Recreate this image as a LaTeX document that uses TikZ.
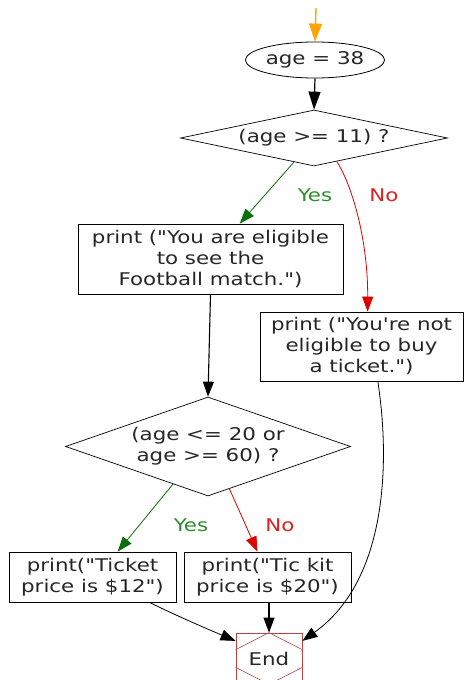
\documentclass[tikz,border=0pt]{standalone}
\usepackage{fontspec}
\setmainfont{DejaVu Sans}[FakeStretch=1.22, Ligatures=TeXOff]
\usetikzlibrary{shapes.geometric,arrows.meta,calc}
\definecolor{txt}{HTML}{262626}
\definecolor{yesc}{HTML}{0A6E0A}
\definecolor{yesl}{HTML}{2E8B2E}
\definecolor{noc}{HTML}{E00000}
\definecolor{nol}{HTML}{E02020}
\definecolor{endc}{HTML}{B84444}
\definecolor{startc}{HTML}{FFA500}
\tikzset{
  every node/.style={font=\fontsize{17.5}{21}\selectfont, text=txt, align=center},
  procbox/.style={draw=black, line width=0.8pt, rectangle, inner sep=0pt},
  decision/.style={draw=black, line width=0.7pt, diamond, inner sep=0pt},
  conn/.style={line width=0.8pt, -{Triangle[length=15pt,width=11pt]}},
  yesedge/.style={conn, draw=yesc},
  noedge/.style={conn, draw=noc},
  yeslabel/.style={text=yesl},
  nolabel/.style={text=nol},
}
\begin{document}
\begin{tikzpicture}[x=1pt,y=-1pt]
\useasboundingbox (0,0) rectangle (466,680);
\fill[white] (0,0) rectangle (466,680);

\coordinate (start) at (316,8);
\node[draw=black, line width=0.8pt, ellipse, minimum width=130pt, minimum height=36pt, inner sep=0pt] (ell) at (315,60) {age = 38};
\node[decision, aspect=4.77, minimum width=267pt, minimum height=56pt] (d1) at (314,138) {(age >= 11) ?};
\node[procbox, minimum width=265pt, minimum height=70pt] (b1) at (210.5,259) {print ("You are eligible\\to see the\\Football match.")};
\node[procbox, minimum width=203pt, minimum height=69pt] (b2) at (361.5,346.5) {print ("You're not\\eligible to buy\\a ticket.")};
\node[decision, aspect=2.88, minimum width=285pt, minimum height=99pt] (d2) at (208,446.5) {(age <= 20 or\\age >= 60) ?};
\node[procbox, minimum width=167pt, minimum height=50pt] (b3) at (92.5,577) {print("Ticket\\price is \$12")};
\node[procbox, minimum width=167pt, minimum height=50pt] (b4) at (267.5,577) {print("Tic kit\\price is \$20")};
\node[rectangle, draw=endc, line width=0.8pt, minimum width=66pt, minimum height=51pt, inner sep=0pt] (end) at (269,658.5) {End};
\draw[endc, line width=0.6pt] ($(end.north west)!0.33!(end.south west)$) -- (end.north) -- ($(end.north east)!0.33!(end.south east)$);
\draw[endc, line width=0.6pt] ($(end.south west)!0.33!(end.north west)$) -- (end.south) -- ($(end.south east)!0.33!(end.north east)$);

% connectors
\draw[conn, draw=startc, line width=1.4pt, -{Triangle[length=18pt,width=13pt]}] (start) -- (ell.north);
\draw[conn, draw=black, line width=1.2pt, -{Triangle[length=18pt,width=12pt]}] (ell.south) -- (d1.north);
\draw[yesedge] ($(d1.south)!0.15!(d1.west)$) -- ($(b1.north west)!0.61!(b1.north east)$);
\node[yeslabel] (y1) at (315,195) {Yes};
\draw[noedge] ($(d1.south)!0.17!(d1.east)$) .. controls (352,185) and (368,240) .. ($(b2.north west)!0.53!(b2.north east)$);
\node[nolabel] (n1) at (384,195) {No};
\draw[conn, draw=black, line width=1.1pt] (b1.south) -- (d2.north);
\draw[yesedge] ($(d2.south)!0.245!(d2.west)$) -- ($(b3.north west)!0.65!(b3.north east)$);
\node[yeslabel] (y2) at (191,525) {Yes};
\draw[noedge] ($(d2.south)!0.15!(d2.east)$) -- ($(b4.north west)!0.44!(b4.north east)$);
\node[nolabel] (n2) at (280,525) {No};
\draw[conn, draw=black] ($(b3.south west)!0.84!(b3.south east)$) .. controls (175,615) and (205,628) .. ($(end.north west)!0.16!(end.south west)$);
\draw[conn, draw=black, line width=1.1pt] (b4.south -| end.north) -- (end.north);
\draw[conn, draw=black] ($(b2.south west)!0.58!(b2.south east)$) .. controls (390,460) and (388,580) .. ($(end.north east)!0.16!(end.south east)$);
\end{tikzpicture}
\end{document}
